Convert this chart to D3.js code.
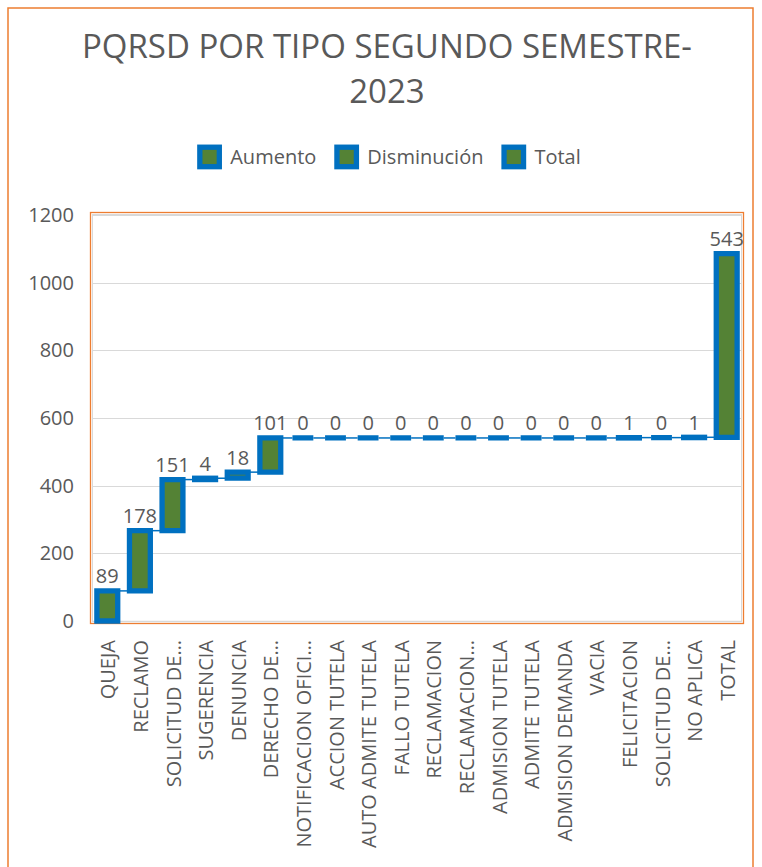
<!DOCTYPE html>
<html>
<head>
<meta charset="utf-8">
<script src="https://cdn.jsdelivr.net/npm/d3@7"></script>
<style>
  html, body { margin: 0; padding: 0; background: #fff; }
  svg { display: block; font-family: "Open Sans", sans-serif; }
</style>
</head>
<body>
<svg id="chart" width="762" height="867"></svg>
<script>
const titleLines = ["PQRSD POR TIPO SEGUNDO SEMESTRE-", "2023"];
const categories = ["QUEJA", "RECLAMO", "SOLICITUD DE…", "SUGERENCIA", "DENUNCIA", "DERECHO DE…",
  "NOTIFICACION OFICI…", "ACCION TUTELA", "AUTO ADMITE TUTELA", "FALLO TUTELA", "RECLAMACION",
  "RECLAMACION…", "ADMISION TUTELA", "ADMITE TUTELA", "ADMISION DEMANDA", "VACIA", "FELICITACION",
  "SOLICITUD DE…", "NO APLICA", "TOTAL"];
const values = [89, 178, 151, 4, 18, 101, 0, 0, 0, 0, 0, 0, 0, 0, 0, 0, 1, 0, 1, 543];
const yTicks = [0, 200, 400, 600, 800, 1000, 1200];
const legendLabels = ["Aumento", "Disminución", "Total"];

const BLUE = "#0070C0", GREEN = "#548235", ORANGE = "#ED7D31", GRID = "#D9D9D9", TEXT = "#595959";

const svg = d3.select("#chart");
svg.append("rect").attr("width", 762).attr("height", 867).attr("fill", "#fff");
// outer chart frame
svg.append("rect").attr("x", 8).attr("y", 8).attr("width", 745).attr("height", 880)
  .attr("fill", "none").attr("stroke", ORANGE).attr("stroke-width", 1.5);

// title
svg.append("g").selectAll("text").data(titleLines).join("text")
  .attr("x", 387).attr("y", (d, i) => 58 + i * 45)
  .attr("text-anchor", "middle").attr("fill", TEXT).attr("font-size", 33)
  .text(d => d);

// scales (index domain: some category names repeat)
const idx = d3.range(categories.length);
const x = d3.scaleBand().domain(idx).range([91, 743]).padding(0);
const y = d3.scaleLinear().domain([0, 1200]).range([621, 215]);

// plot area frame
svg.append("rect").attr("x", 90.5).attr("y", 212.5).attr("width", 653).attr("height", 411)
  .attr("fill", "none").attr("stroke", ORANGE).attr("stroke-width", 1.3);
svg.append("rect").attr("x", 92.5).attr("y", 214.5).attr("width", 649).attr("height", 407)
  .attr("fill", "none").attr("stroke", GRID).attr("stroke-width", 1);

// gridlines
svg.append("g").selectAll("line").data(yTicks).join("line")
  .attr("x1", 92).attr("x2", 742)
  .attr("y1", d => Math.round(y(d)) + 0.5).attr("y2", d => Math.round(y(d)) + 0.5)
  .attr("stroke", GRID).attr("stroke-width", d => d === 0 ? 1.5 : 1.2);

// y axis labels via d3 axis
const yAxis = svg.append("g").attr("transform", "translate(76,0)")
  .call(d3.axisLeft(y).tickValues(yTicks).tickFormat(d3.format("d")).tickSize(0).tickPadding(2));
yAxis.select(".domain").remove();
yAxis.selectAll("text").attr("font-size", 20).attr("fill", TEXT).attr("font-family", "Open Sans");

// x axis labels
const xAxis = svg.append("g").attr("transform", "translate(0,640)");
xAxis.selectAll("text").data(idx).join("text")
  .attr("transform", i => `translate(${x(i) + x.bandwidth() / 2 + 1},0) rotate(-90)`)
  .attr("text-anchor", "end").attr("dy", "0.35em")
  .attr("font-size", 20).attr("fill", TEXT)
  .text(i => categories[i]);

// waterfall data
let run = 0;
const bars = idx.map(i => {
  const start = run;
  const end = run + values[i];
  run = end;
  return { i, v: values[i], start, end };
});

const barW = x.bandwidth() * 0.64;
const cx = i => x(i) + x.bandwidth() / 2;
const g = svg.append("g");
// connectors
g.selectAll("line.conn").data(bars.slice(0, -1)).join("line").attr("class", "conn")
  .attr("x1", d => cx(d.i) + barW / 2)
  .attr("x2", d => cx(d.i + 1) - barW / 2)
  .attr("y1", d => y(d.end)).attr("y2", d => y(d.end))
  .attr("stroke", BLUE).attr("stroke-width", 1.5);

// bars as paths (so zero-height bars still show their outline)
g.selectAll("path.bar").data(bars).join("path").attr("class", "bar")
  .attr("d", d => {
    const x0 = cx(d.i) - barW / 2;
    const y0 = y(d.end), y1 = y(d.start);
    return `M${x0},${y0}H${x0 + barW}V${y1}H${x0}Z`;
  })
  .attr("fill", GREEN).attr("stroke", BLUE).attr("stroke-width", 5.3)
  .attr("stroke-linejoin", "miter");

// data labels
g.selectAll("text.lbl").data(bars).join("text").attr("class", "lbl")
  .attr("x", d => cx(d.i))
  .attr("y", d => y(d.end) - 7.5)
  .attr("text-anchor", "middle").attr("font-size", 20).attr("fill", TEXT)
  .text(d => d.v);

// legend
const leg = svg.append("g");
const items = leg.selectAll("g").data(legendLabels).join("g");
items.append("rect").attr("x", 2.6).attr("y", -9.8).attr("width", 19.5).attr("height", 19.5)
  .attr("fill", GREEN).attr("stroke", BLUE).attr("stroke-width", 5.3);
items.append("text").attr("x", 33).attr("y", 0).attr("dy", "0.35em")
  .attr("font-size", 20).attr("fill", TEXT).text(d => d);
let lx = 0;
const offsets = [];
items.each(function () {
  const tw = d3.select(this).select("text").node().getComputedTextLength();
  offsets.push(lx);
  lx += 33 + tw + 18;
});
const total = lx - 18;
const startX = 389 - total / 2;
items.attr("transform", (d, i) => `translate(${startX + offsets[i]},157)`);
</script>
</body>
</html>
